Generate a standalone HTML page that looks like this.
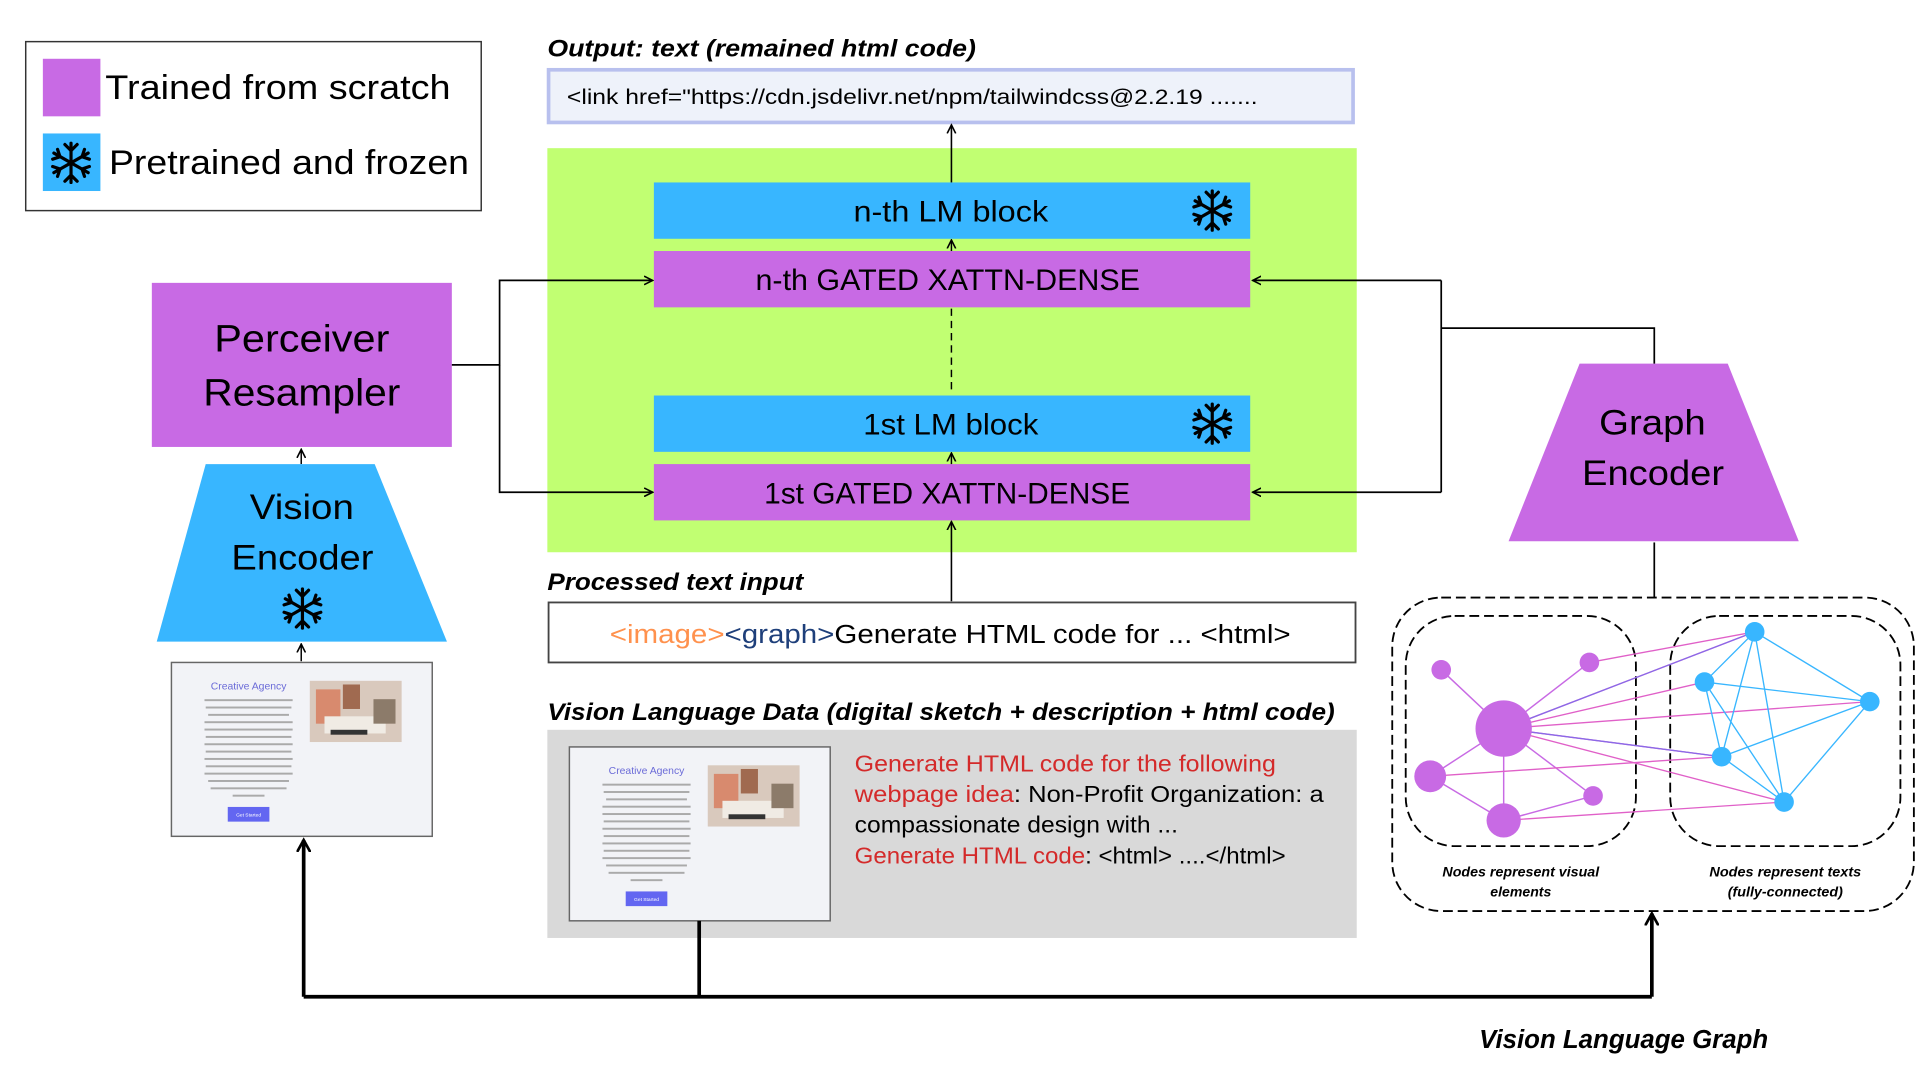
<!DOCTYPE html>
<html><head><meta charset="utf-8"><style>
html,body{margin:0;padding:0;background:#fff;width:1920px;height:1080px;overflow:hidden}
svg{display:block}
text{font-family:"Liberation Sans",sans-serif}
</style></head><body>
<svg width="1920" height="1080" viewBox="0 0 1568 882" xmlns="http://www.w3.org/2000/svg">
<defs>
<marker id="ar" markerWidth="8" markerHeight="8" refX="7" refY="4" orient="auto" markerUnits="userSpaceOnUse">
<path d="M0,0.5 L7,4 L0,7.5" fill="none" stroke="#000" stroke-width="1.3"/></marker>
<marker id="arb" markerWidth="12" markerHeight="12" refX="10" refY="6" orient="auto" markerUnits="userSpaceOnUse">
<path d="M0,0.5 L10,6 L0,11.5" fill="none" stroke="#000" stroke-width="2.2"/></marker>
<g id="snow" stroke="#000" stroke-width="2.6" fill="none" stroke-linecap="round">
<line x1="0" y1="-16" x2="0" y2="16"/><line x1="-14" y1="-8" x2="14" y2="8"/><line x1="-14" y1="8" x2="14" y2="-8"/>
<path d="M-5,-15 L0,-10 L5,-15 M-5,15 L0,10 L5,15 M-15,-3 L-9,-5 L-11,-11 M15,3 L9,5 L11,11 M15,-3 L9,-5 L11,-11 M-15,3 L-9,5 L-11,11"/>
</g>
<g id="thumb">
<rect x="0" y="0" width="213" height="142" fill="#f2f3f7" stroke="#666" stroke-width="1.2"/>
<text x="63" y="22" font-size="8.5" fill="#6b6bd8" text-anchor="middle">Creative Agency</text>
<g fill="#aaa"><rect x="27" y="30" width="72" height="1.6"/><rect x="28" y="36" width="70" height="1.6"/><rect x="30" y="42" width="66" height="1.6"/><rect x="27" y="48" width="72" height="1.6"/><rect x="27" y="54" width="72" height="1.6"/><rect x="28" y="60" width="70" height="1.6"/><rect x="27" y="66" width="72" height="1.6"/><rect x="28" y="72" width="70" height="1.6"/><rect x="27" y="78" width="72" height="1.6"/><rect x="28" y="84" width="70" height="1.6"/><rect x="27" y="90" width="72" height="1.6"/><rect x="30" y="96" width="66" height="1.6"/><rect x="32" y="102" width="62" height="1.6"/><rect x="50" y="108" width="26" height="1.6"/></g>
<rect x="46" y="118" width="34" height="12" fill="#6366f1"/>
<text x="63" y="126" font-size="4" fill="#fff" text-anchor="middle">Get Started</text>
<rect x="113" y="15" width="75" height="50" fill="#d9c9bd"/>
<rect x="118" y="22" width="20" height="28" fill="#d88a6e"/><rect x="140" y="18" width="14" height="20" fill="#a06a50"/><rect x="125" y="44" width="50" height="14" fill="#f0ebe4"/><rect x="130" y="55" width="30" height="4" fill="#333"/><rect x="165" y="30" width="18" height="20" fill="#8c7b6a"/>
</g>
</defs>

<!-- legend -->
<rect x="21" y="34" width="372" height="138" fill="#fff" stroke="#333" stroke-width="1.2"/>
<rect x="35" y="48" width="47" height="47" fill="#c86ae4"/>
<text x="86" y="81" font-size="28" textLength="282" lengthAdjust="spacingAndGlyphs">Trained from scratch</text>
<rect x="35" y="109" width="47" height="47" fill="#38b6ff"/>
<use href="#snow" x="58" y="133"/>
<text x="89" y="142" font-size="28" textLength="294" lengthAdjust="spacingAndGlyphs">Pretrained and frozen</text>

<!-- output -->
<text x="447" y="46" font-size="20" font-weight="bold" font-style="italic" textLength="350" lengthAdjust="spacingAndGlyphs">Output: text (remained html code)</text>
<rect x="448" y="57" width="657" height="43" fill="#eef2fa" stroke="#b8c0ee" stroke-width="3"/>
<text x="463" y="85" font-size="17" textLength="564" lengthAdjust="spacingAndGlyphs">&lt;link href="https://cdn.jsdelivr.net/npm/tailwindcss@2.2.19 .......</text>

<!-- green -->
<rect x="447" y="121" width="661" height="330" fill="#c1ff72"/>
<line x1="777" y1="149" x2="777" y2="102" stroke="#000" stroke-width="1.3" marker-end="url(#ar)"/>
<rect x="534" y="149" width="487" height="46" fill="#38b6ff"/>
<text x="697" y="181" font-size="24" textLength="159" lengthAdjust="spacingAndGlyphs">n-th LM block</text>
<use href="#snow" x="990" y="172"/>
<rect x="534" y="205" width="487" height="46" fill="#c86ae4"/>
<text x="617" y="237" font-size="24" textLength="314" lengthAdjust="spacingAndGlyphs">n-th GATED XATTN-DENSE</text>
<line x1="777" y1="205" x2="777" y2="196" stroke="#000" stroke-width="1.2" marker-end="url(#ar)"/>
<line x1="777" y1="252" x2="777" y2="322" stroke="#000" stroke-width="1.2" stroke-dasharray="6,4"/>
<rect x="534" y="323" width="487" height="46" fill="#38b6ff"/>
<text x="705" y="355" font-size="24" textLength="143" lengthAdjust="spacingAndGlyphs">1st LM block</text>
<use href="#snow" x="990" y="346"/>
<rect x="534" y="379" width="487" height="46" fill="#c86ae4"/>
<text x="624" y="411" font-size="24" textLength="299" lengthAdjust="spacingAndGlyphs">1st GATED XATTN-DENSE</text>
<line x1="777" y1="379" x2="777" y2="370" stroke="#000" stroke-width="1.2" marker-end="url(#ar)"/>
<line x1="777" y1="491" x2="777" y2="426" stroke="#000" stroke-width="1.3" marker-end="url(#ar)"/>

<!-- perceiver -->
<rect x="124" y="231" width="245" height="134" fill="#c86ae4"/>
<text x="175" y="287" font-size="31" textLength="143" lengthAdjust="spacingAndGlyphs">Perceiver</text>
<text x="166" y="331" font-size="31" textLength="161" lengthAdjust="spacingAndGlyphs">Resampler</text>
<path d="M369,298 H408 V229 H533" fill="none" stroke="#000" stroke-width="1.4" marker-end="url(#ar)"/>
<path d="M408,298 V402 H533" fill="none" stroke="#000" stroke-width="1.4" marker-end="url(#ar)"/>
<line x1="246" y1="379" x2="246" y2="367" stroke="#000" stroke-width="1.2" marker-end="url(#ar)"/>

<!-- vision encoder -->
<polygon points="168,379 306,379 365,524 128,524" fill="#38b6ff"/>
<text x="204" y="424" font-size="29" textLength="85" lengthAdjust="spacingAndGlyphs">Vision</text>
<text x="189" y="465" font-size="29" textLength="116" lengthAdjust="spacingAndGlyphs">Encoder</text>
<use href="#snow" x="247" y="497"/>
<line x1="246" y1="540" x2="246" y2="526" stroke="#000" stroke-width="1.2" marker-end="url(#ar)"/>
<use href="#thumb" x="140" y="541"/>

<!-- graph encoder -->
<polygon points="1290,297 1411,297 1469,442 1232,442" fill="#c86ae4"/>
<text x="1306" y="355" font-size="29" textLength="87" lengthAdjust="spacingAndGlyphs">Graph</text>
<text x="1292" y="396" font-size="29" textLength="116" lengthAdjust="spacingAndGlyphs">Encoder</text>
<path d="M1351,297 V268 H1177" fill="none" stroke="#000" stroke-width="1.4"/>
<path d="M1177,229 V402" fill="none" stroke="#000" stroke-width="1.4"/>
<path d="M1177,229 H1023" fill="none" stroke="#000" stroke-width="1.4" marker-end="url(#ar)"/>
<path d="M1177,402 H1023" fill="none" stroke="#000" stroke-width="1.4" marker-end="url(#ar)"/>
<line x1="1351" y1="443" x2="1351" y2="488" stroke="#000" stroke-width="1.4"/>

<!-- processed text -->
<text x="447" y="482" font-size="20" font-weight="bold" font-style="italic" textLength="209" lengthAdjust="spacingAndGlyphs">Processed text input</text>
<rect x="448" y="492" width="659" height="49" fill="#fff" stroke="#444" stroke-width="1.5"/>
<text x="498" y="525" font-size="21" textLength="556" lengthAdjust="spacingAndGlyphs"><tspan fill="#ff914d">&lt;image&gt;</tspan><tspan fill="#1e3f7a">&lt;graph&gt;</tspan>Generate HTML code for ... &lt;html&gt;</text>

<!-- VL data -->
<text x="447" y="588" font-size="20" font-weight="bold" font-style="italic" textLength="643" lengthAdjust="spacingAndGlyphs">Vision Language Data (digital sketch + description + html code)</text>
<rect x="447" y="596" width="661" height="170" fill="#d9d9d9"/>
<use href="#thumb" x="465" y="610"/>
<text x="698" y="630" font-size="19" fill="#d42a2a" textLength="344" lengthAdjust="spacingAndGlyphs">Generate HTML code for the following</text>
<text x="698" y="655" font-size="19" textLength="383" lengthAdjust="spacingAndGlyphs"><tspan fill="#d42a2a">webpage idea</tspan>:  Non-Profit Organization: a</text>
<text x="698" y="680" font-size="19" textLength="264" lengthAdjust="spacingAndGlyphs">compassionate design with ...</text>
<text x="698" y="705" font-size="19" textLength="352" lengthAdjust="spacingAndGlyphs"><tspan fill="#d42a2a">Generate HTML code</tspan>: &lt;html&gt; ....&lt;/html&gt;</text>

<!-- bottom arrows -->
<path d="M571,752 V814" fill="none" stroke="#000" stroke-width="3"/>
<path d="M248,814 H1349" fill="none" stroke="#000" stroke-width="3"/>
<line x1="248" y1="814" x2="248" y2="686" stroke="#000" stroke-width="3" marker-end="url(#arb)"/>
<line x1="1349" y1="814" x2="1349" y2="746" stroke="#000" stroke-width="3" marker-end="url(#arb)"/>

<!-- graph -->
<rect x="1137" y="488" width="426" height="256" rx="40" fill="none" stroke="#000" stroke-width="1.5" stroke-dasharray="8,4"/>
<rect x="1148" y="503" width="188" height="188" rx="40" fill="none" stroke="#000" stroke-width="1.5" stroke-dasharray="8,4"/>
<rect x="1364" y="503" width="188" height="188" rx="40" fill="none" stroke="#000" stroke-width="1.5" stroke-dasharray="8,4"/>
<g stroke="#c86ae4" stroke-width="1.2">
<line x1="1228" y1="595" x2="1177" y2="547"/><line x1="1228" y1="595" x2="1298" y2="541"/><line x1="1228" y1="595" x2="1168" y2="634"/><line x1="1228" y1="595" x2="1228" y2="670"/><line x1="1228" y1="595" x2="1301" y2="650"/>
<line x1="1168" y1="634" x2="1228" y2="670"/><line x1="1228" y1="670" x2="1301" y2="650"/>
</g>
<g stroke="#e060c8" stroke-width="1.1">
<line x1="1228" y1="595" x2="1433" y2="516"/><line x1="1228" y1="595" x2="1392" y2="557"/><line x1="1228" y1="595" x2="1527" y2="573"/><line x1="1228" y1="595" x2="1406" y2="618"/><line x1="1228" y1="595" x2="1457" y2="655"/>
<line x1="1298" y1="541" x2="1433" y2="516"/><line x1="1168" y1="634" x2="1406" y2="618"/><line x1="1228" y1="670" x2="1457" y2="655"/>
</g>
<g stroke="#8a6ae8" stroke-width="1.1">
<line x1="1228" y1="595" x2="1433" y2="516"/><line x1="1228" y1="595" x2="1406" y2="618"/>
</g>
<g stroke="#38b6ff" stroke-width="1.1">
<line x1="1433" y1="516" x2="1392" y2="557"/><line x1="1433" y1="516" x2="1527" y2="573"/><line x1="1433" y1="516" x2="1406" y2="618"/><line x1="1433" y1="516" x2="1457" y2="655"/>
<line x1="1392" y1="557" x2="1527" y2="573"/><line x1="1392" y1="557" x2="1406" y2="618"/><line x1="1392" y1="557" x2="1457" y2="655"/>
<line x1="1527" y1="573" x2="1406" y2="618"/><line x1="1527" y1="573" x2="1457" y2="655"/><line x1="1406" y1="618" x2="1457" y2="655"/>
</g>
<g fill="#c86ae4">
<circle cx="1228" cy="595" r="23"/><circle cx="1177" cy="547" r="8"/><circle cx="1298" cy="541" r="8"/><circle cx="1168" cy="634" r="13"/><circle cx="1228" cy="670" r="14"/><circle cx="1301" cy="650" r="8"/>
</g>
<g fill="#38b6ff">
<circle cx="1433" cy="516" r="8"/><circle cx="1392" cy="557" r="8"/><circle cx="1527" cy="573" r="8"/><circle cx="1406" cy="618" r="8"/><circle cx="1457" cy="655" r="8"/>
</g>
<text x="1178" y="716" font-size="11.5" font-weight="bold" font-style="italic" textLength="128" lengthAdjust="spacingAndGlyphs">Nodes represent visual</text>
<text x="1242" y="732" font-size="11.5" font-weight="bold" font-style="italic" text-anchor="middle">elements</text>
<text x="1396" y="716" font-size="11.5" font-weight="bold" font-style="italic" textLength="124" lengthAdjust="spacingAndGlyphs">Nodes represent texts</text>
<text x="1411" y="732" font-size="11.5" font-weight="bold" font-style="italic" textLength="94" lengthAdjust="spacingAndGlyphs">(fully-connected)</text>

<text x="1208" y="856" font-size="21" font-weight="bold" font-style="italic" textLength="236" lengthAdjust="spacingAndGlyphs">Vision Language Graph</text>
</svg>
</body></html>
